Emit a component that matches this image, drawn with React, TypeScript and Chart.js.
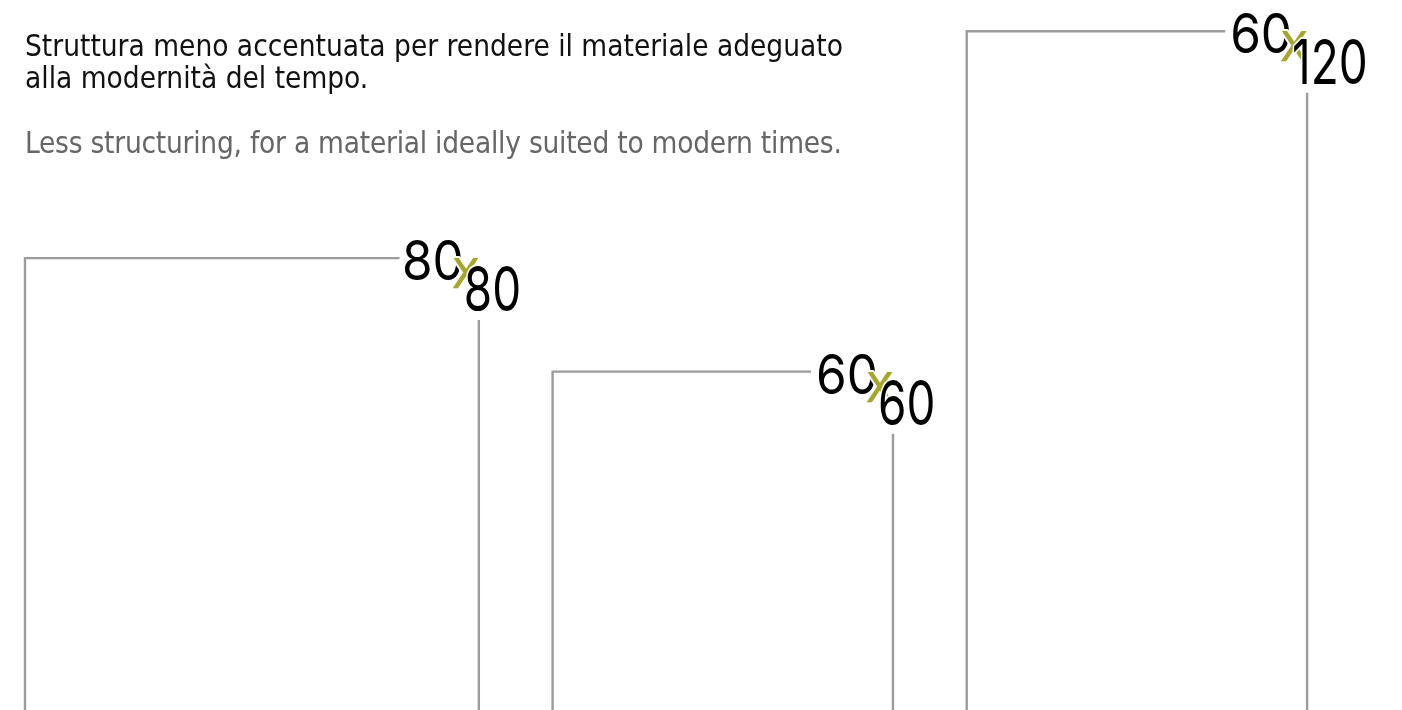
import React, { useEffect, useRef } from "react";
import { Chart, registerables } from "chart.js";

Chart.register(...registerables);

// Tile sizes in cm (width x height)
const TILE_WIDTHS = [80, 60, 60];
const TILE_HEIGHTS = [80, 60, 120];
const GAP_CM = 13;

const TITLE_IT = ["Struttura meno accentuata per rendere il materiale adeguato", "alla modernità del tempo."];
const TITLE_EN = "Less structuring, for a material ideally suited to modern times.";

const W = 1402;
const H = 710;
const PX_PER_CM = 5.673;
const LEFT_PX = 25;
const BOTTOM_PX = 712;

const LINE_COLOR = "#9c9c9c";
const X_COLOR = "#a6a62c";
const FONT = "'DejaVu Sans Condensed', 'DejaVu Sans', sans-serif";
const NUM_FONT = "Inter, 'DejaVu Sans', sans-serif";

const labelPlugin = {
  id: "tileLabels",
  afterDatasetsDraw(chart: any) {
    const ctx: CanvasRenderingContext2D = chart.ctx;
    const pieces: any[] = [];
    chart.data.datasets.forEach((ds: any, i: number) => {
      const meta = chart.getDatasetMeta(i);
      const corner = meta.data[2];
      if (!corner) return;
      const cx = corner.x;
      const cy = corner.y;
      pieces.push({ text: String(TILE_WIDTHS[i]), x: cx - 15, y: cy + 22, align: "right", font: `55px ${NUM_FONT}`, color: "#000", sx: 0.9 });
      pieces.push({ text: "x", x: cx - 13, y: cy + 30, align: "center", font: `55px ${FONT}`, color: X_COLOR, sx: 1 });
      pieces.push({ text: String(TILE_HEIGHTS[i]), x: cx - 15, y: cy + 53, align: "left", font: `62px ${NUM_FONT}`, color: "#000", sx: 0.74 });
    });
    const drawPiece = (p: any, stroke: boolean, lw: number) => {
      ctx.save();
      ctx.translate(p.x, p.y);
      ctx.scale(p.sx, 1);
      ctx.font = p.font;
      ctx.textAlign = p.align;
      ctx.textBaseline = "alphabetic";
      ctx.lineJoin = "round";
      ctx.strokeStyle = "#ffffff";
      ctx.lineWidth = lw;
      ctx.strokeText(p.text, 0, 0);
      if (!stroke) {
        ctx.fillStyle = p.color;
        ctx.fillText(p.text, 0, 0);
      }
      ctx.restore();
    };
    // pass 1: clear lines around labels
    pieces.forEach((p) => drawPiece(p, true, 18));
    // pass 2: glyphs with thin halo
    pieces.forEach((p) => drawPiece(p, false, 4));
  },
};

export default function App() {
  const ref = useRef<HTMLCanvasElement | null>(null);

  useEffect(() => {
    document.body.style.margin = "0";
    const canvas = ref.current;
    if (!canvas) return;
    let offset = 0;
    const datasets = TILE_WIDTHS.map((w, i) => {
      const h = TILE_HEIGHTS[i];
      const x0 = offset;
      const x1 = offset + w;
      offset = x1 + GAP_CM;
      return {
        label: `${w}x${h}`,
        data: [
          { x: x0, y: 0 },
          { x: x0, y: h },
          { x: x1, y: h },
          { x: x1, y: 0 },
        ],
        showLine: true,
        borderColor: LINE_COLOR,
        borderWidth: 2.4,
        borderJoinStyle: "miter" as const,
        borderCapStyle: "butt" as const,
        pointRadius: 0,
        pointHoverRadius: 0,
        fill: false,
        tension: 0,
      };
    });
    const xMin = -LEFT_PX / PX_PER_CM;
    const xMax = xMin + W / PX_PER_CM;
    const yMax = BOTTOM_PX / PX_PER_CM;
    const yMin = yMax - H / PX_PER_CM;
    const chart = new Chart(canvas, {
      type: "scatter",
      data: { datasets: datasets as any },
      options: {
        animation: false,
        responsive: false,
        maintainAspectRatio: false,
        layout: { padding: 0 },
        events: [],
        plugins: { legend: { display: false }, tooltip: { enabled: false }, title: { display: false } },
        scales: {
          x: { type: "linear", display: false, min: xMin, max: xMax },
          y: { type: "linear", display: false, min: yMin, max: yMax },
        },
      },
      plugins: [labelPlugin],
    });
    return () => chart.destroy();
  }, []);

  const textStyle: React.CSSProperties = {
    position: "absolute",
    left: 25,
    fontFamily: FONT,
    fontSize: 29.5,
    lineHeight: "32px",
    whiteSpace: "nowrap",
    margin: 0,
  };

  return (
    <div style={{ position: "absolute", left: 0, top: 0, width: W, height: H, overflow: "hidden", background: "#fff" }}>
      <canvas ref={ref} width={W} height={H} style={{ position: "absolute", left: 0, top: 0, width: W, height: H }} />
      <div style={{ ...textStyle, top: 30, color: "#111" }}>
        {TITLE_IT.map((t, i) => (
          <div key={i}>{t}</div>
        ))}
      </div>
      <div style={{ ...textStyle, top: 127, color: "#666", letterSpacing: "-0.24px" }}>{TITLE_EN}</div>
    </div>
  );
}
